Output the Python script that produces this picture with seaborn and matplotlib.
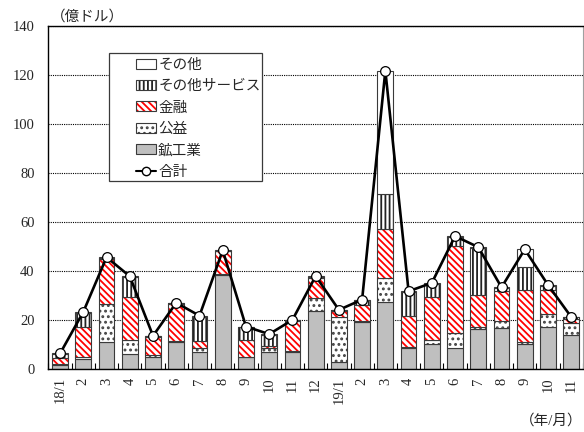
import numpy as np
import matplotlib
matplotlib.use("Agg")
import matplotlib.pyplot as plt
import seaborn as sns
from matplotlib.patches import Patch, Rectangle
from matplotlib.lines import Line2D
from matplotlib.legend_handler import HandlerTuple

# data (億ドル)
months = ['18/1', '18/2', '18/3', '18/4', '18/5', '18/6', '18/7', '18/8', '18/9', '18/10', '18/11', '18/12',
          '19/1', '19/2', '19/3', '19/4', '19/5', '19/6', '19/7', '19/8', '19/9', '19/10', '19/11']
tick_labels = ['18/1', '2', '3', '4', '5', '6', '7', '8', '9', '10', '11', '12',
               '19/1', '2', '3', '4', '5', '6', '7', '8', '9', '10', '11']

mining = [1.5, 4.0, 11.0, 6.0, 5.0, 11.0, 7.0, 38.5, 4.8, 6.8, 7.0, 23.5,
          3.0, 19.0, 27.5, 8.7, 10.0, 8.7, 16.5, 16.8, 10.0, 17.3, 13.9]
utility = [0.5, 1.0, 15.5, 6.0, 0.5, 0.3, 1.5, 0.3, 0.2, 1.7, 0.2, 5.4,
           18.3, 0.5, 9.6, 0.3, 1.8, 5.9, 0.8, 2.6, 1.0, 5.2, 4.8]
finance = [2.5, 12.0, 18.5, 17.2, 7.5, 15.2, 2.7, 9.2, 7.0, 0.8, 12.4, 8.2,
           2.3, 6.5, 20.0, 12.4, 17.4, 35.7, 12.7, 12.3, 21.3, 9.8, 1.6]
other_services = [1.5, 6.0, 0.3, 8.3, 0.3, 0.3, 10.0, 0.2, 5.0, 4.5, 0.2, 0.5,
                  0.3, 2.0, 14.4, 10.0, 5.6, 3.5, 19.4, 1.3, 9.2, 1.5, 0.7]
others = [0.3, 0.3, 0.3, 0.3, 0.2, 0.2, 0.5, 0.2, 0.3, 0.4, 0.2, 0.3,
          0.2, 0.3, 50.2, 0.3, 0.3, 0.4, 0.3, 0.3, 7.3, 0.5, 0.2]
totals = [6.3, 23.3, 45.6, 37.8, 13.5, 27.0, 21.7, 48.4, 17.3, 14.2, 20.0, 37.9,
          24.1, 28.3, 121.7, 31.7, 35.1, 54.2, 49.7, 33.3, 48.8, 34.3, 21.2]

# bottom -> top: name, values, face, hatch, hatch colour
layers = [
    ('鉱工業', mining, '#bfbfbf', None, '#bfbfbf'),
    ('公益', utility, 'white', '...', '#444444'),
    ('金融', finance, 'white', '\\\\\\\\\\', '#ff0000'),
    ('その他サービス', other_services, 'white', '||||', '#222222'),
    ('その他', others, 'white', None, 'white'),
]

sns.set_style('ticks')
plt.rcParams['font.family'] = ['Liberation Serif', 'Noto Sans CJK JP']
plt.rcParams['hatch.linewidth'] = 1.3
EDGE = '#3a3a3a'

fig = plt.figure(figsize=(5.84, 4.32), dpi=100)
ax = fig.add_axes([0.083, 0.146, 0.915, 0.794])

bottom = np.zeros(len(months))
handles = {}
for name, vals, face, hatch, hcol in layers:
    n0 = len(ax.patches)
    sns.barplot(x=months, y=vals, order=months, bottom=bottom, color=face, saturation=1,
                width=0.68, errorbar=None, ax=ax)
    for p in ax.patches[n0:]:
        p.set_facecolor(face)
        p.set_edgecolor(hcol)
        p.set_linewidth(0)
        p.set_hatch(hatch)
    # outline layer
    n1 = len(ax.patches)
    sns.barplot(x=months, y=vals, order=months, bottom=bottom, color=face, saturation=1,
                width=0.68, errorbar=None, ax=ax)
    for p in ax.patches[n1:]:
        p.set_facecolor('none')
        p.set_edgecolor(EDGE)
        p.set_linewidth(0.8)
        p.set_hatch(None)
    bottom = bottom + np.array(vals)
    fill_h = Patch(facecolor=face, edgecolor=hcol, hatch=hatch, linewidth=0)
    edge_h = Patch(facecolor='none', edgecolor=EDGE, linewidth=0.8)
    handles[name] = (fill_h, edge_h)

sns.lineplot(x=np.arange(len(months)), y=totals, color='black', linewidth=1.9,
             marker='o', markersize=7, markerfacecolor='white', markeredgecolor='black',
             markeredgewidth=0.9, legend=False, ax=ax, zorder=5)

ax.set_xlim(-0.5, len(months) - 0.5)
ax.set_ylim(0, 140)
ax.set_yticks(np.arange(0, 141, 20))
ax.set_xticks(np.arange(len(months)))
ax.set_xticklabels(tick_labels, rotation=90, fontsize=10.5)
ax.set_xticks(np.arange(-0.5, len(months), 1), minor=True)
ax.tick_params(axis='x', which='major', length=0, pad=6)
ax.tick_params(axis='x', which='minor', direction='in', length=4, width=0.8, color='black')
ax.tick_params(axis='y', direction='in', length=0, pad=10, labelsize=10.5)
ax.set_xlabel('')
ax.set_ylabel('')
ax.grid(axis='y', color='black', linestyle=(0, (1, 1)), linewidth=0.8)
ax.set_axisbelow(True)
for s in ['left', 'bottom', 'top']:
    ax.spines[s].set_color('black')
    ax.spines[s].set_linewidth(1.0)
ax.spines['right'].set_visible(True)
ax.spines['top'].set_visible(True)
ax.spines['right'].set_color('#a0a0a0')

# legend frame (wider on the left than matplotlib's padding allows)
frame = Rectangle((0.113, 0.548), 0.2865, 0.373, transform=ax.transAxes,
                  facecolor='white', edgecolor=EDGE, linewidth=0.9, zorder=6)
ax.add_patch(frame)

order = ['その他', 'その他サービス', '金融', '公益', '鉱工業']
leg_handles = [handles[k] for k in order]
leg_handles.append(Line2D([0], [0], color='black', linewidth=1.5, marker='o', markersize=6,
                          markerfacecolor='white', markeredgecolor='black'))
leg_labels = order + ['合計']
leg = ax.legend(leg_handles, leg_labels, handler_map={tuple: HandlerTuple(ndivide=1)},
                loc='upper left', bbox_to_anchor=(0.163, 0.905), borderaxespad=0,
                fontsize=10.5, handlelength=1.4, handleheight=0.7, handletextpad=0.15,
                labelspacing=0.56, borderpad=0, frameon=False)
leg.set_zorder(7)

fig.text(51 / 584, 1 - 17 / 432, '（億ドル）', fontsize=10.5, ha='left', va='center')
fig.text(0.998, 1 - 421 / 432, '（年/月）', fontsize=10.5, ha='right', va='center')

fig.savefig('out.png', dpi=100)
